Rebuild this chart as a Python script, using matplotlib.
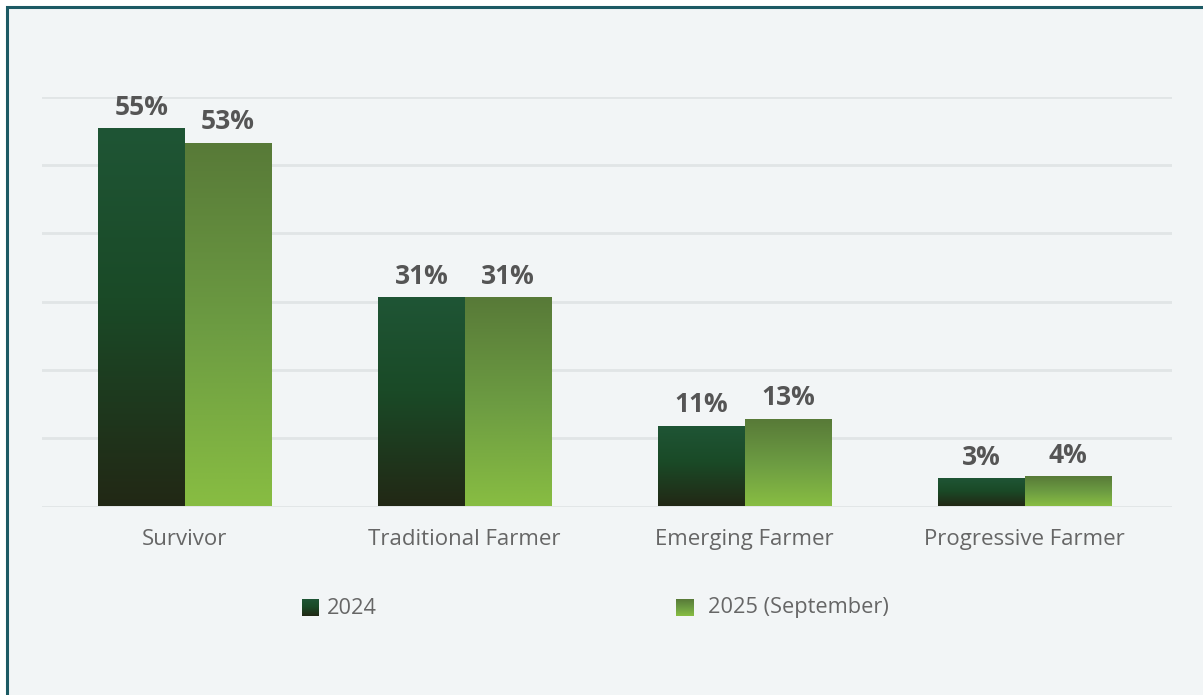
import matplotlib.pyplot as plt
from matplotlib.colors import LinearSegmentedColormap
from matplotlib.patches import Rectangle
import numpy as np

categories = ['Survivor', 'Traditional Farmer', 'Emerging Farmer', 'Progressive Farmer']
series_names = ['2024', '2025 (September)']
# bar heights as drawn in the picture, and the printed labels
values_2024 = [55.2, 30.5, 11.7, 4.0]
values_2025 = [53.1, 30.5, 12.7, 4.3]
labels_2024 = ['55%', '31%', '11%', '3%']
labels_2025 = ['53%', '31%', '13%', '4%']

plt.rcParams['font.family'] = ['Open Sans', 'DejaVu Sans']

bg = '#f2f5f6'
grid_col = '#e1e5e6'
# gradients run bottom -> top
cmap_2024 = LinearSegmentedColormap.from_list('g24', [(0, '#222815'), (0.55, '#1a4a27'), (1, '#1f5535')])
cmap_2025 = LinearSegmentedColormap.from_list('g25', [(0, '#88bd42'), (0.5, '#6c9b42'), (1, '#587a38')])
grad = np.linspace(0, 1, 256).reshape(-1, 1)

W, H = 1203, 695
fig = plt.figure(figsize=(W / 100, H / 100), dpi=100, facecolor='white')

# page background with dark teal frame on top/left
frame = Rectangle((7 / W, -1), 2, 1 + (H - 7) / H, transform=fig.transFigure,
                  facecolor=bg, edgecolor='#1c5a64', linewidth=2.2, zorder=-10)
fig.patches.append(frame)

ax = fig.add_axes([42 / W, 188.5 / H, 1130 / W, 409.8 / H])
ax.set_facecolor('none')

x = np.arange(len(categories))
w = 0.309
bars_a = ax.bar(x - w / 2, values_2024, w, color='none', zorder=3)
bars_b = ax.bar(x + w / 2, values_2025, w, color='none', zorder=3)

for bars, labels, cmap in [(bars_a, labels_2024, cmap_2024), (bars_b, labels_2025, cmap_2025)]:
    for b, lab in zip(bars, labels):
        x0, h = b.get_x(), b.get_height()
        ax.imshow(grad, extent=[x0, x0 + b.get_width(), 0, h], origin='lower',
                  aspect='auto', cmap=cmap, zorder=3, interpolation='bilinear')
        ax.annotate(lab, (x0 + b.get_width() / 2, h), xytext=(0, 10.5),
                    textcoords='offset points', ha='center', va='baseline',
                    fontsize=19, fontweight='bold', color='#555555', zorder=4)

ax.set_xlim(-0.509, 3.526)
ax.set_ylim(0, 60)
ax.set_yticks(np.arange(0, 61, 10))
ax.set_yticklabels([])
ax.yaxis.grid(True, color=grid_col, linewidth=2, zorder=0)
ax.set_axisbelow(True)
ax.tick_params(axis='y', length=0)
ax.set_xticks(x)
ax.set_xticklabels(categories, fontsize=16, color='#666666')
ax.tick_params(axis='x', length=0, pad=16)
for s in ax.spines.values():
    s.set_visible(False)

# legend with gradient swatches
legend_items = [(302, 327, cmap_2024), (676, 708, cmap_2025)]
for (sx, tx, cmap), name in zip(legend_items, series_names):
    sq = fig.add_axes([sx / W, (H - 616) / H, 17 / W, 17 / H])
    sq.imshow(grad, origin='lower', aspect='auto', cmap=cmap, extent=[0, 1, 0, 1])
    sq.axis('off')
    fig.text(tx / W, (H - 608) / H, name, fontsize=15.7, color='#666666', va='center', ha='left')

fig.savefig('out.png', dpi=100, facecolor='white')
